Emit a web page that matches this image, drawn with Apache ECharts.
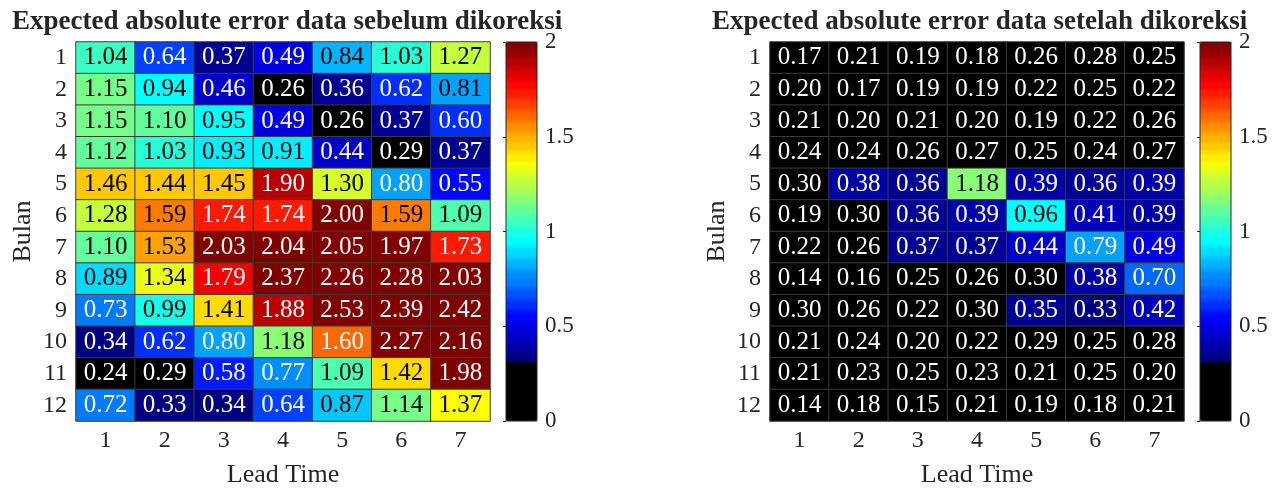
<!DOCTYPE html>
<html>
<head>
<meta charset="utf-8">
<script src="https://cdn.jsdelivr.net/npm/echarts@6/dist/echarts.min.js"></script>
<style>html,body{margin:0;padding:0;background:#fff;}#c{width:1276px;height:488px;}</style>
</head>
<body>
<div id="c"></div>
<script>
const leadTimes = ['1','2','3','4','5','6','7'];
const months = ['1','2','3','4','5','6','7','8','9','10','11','12'];
const colorbarTicks = [0, 0.5, 1, 1.5, 2];
const titleBefore = 'Expected absolute error data sebelum dikoreksi';
const titleAfter = 'Expected absolute error data setelah dikoreksi';

const errBefore = [
  [1.04,0.64,0.37,0.49,0.84,1.03,1.27],
  [1.15,0.94,0.46,0.26,0.36,0.62,0.81],
  [1.15,1.10,0.95,0.49,0.26,0.37,0.60],
  [1.12,1.03,0.93,0.91,0.44,0.29,0.37],
  [1.46,1.44,1.45,1.90,1.30,0.80,0.55],
  [1.28,1.59,1.74,1.74,2.00,1.59,1.09],
  [1.10,1.53,2.03,2.04,2.05,1.97,1.73],
  [0.89,1.34,1.79,2.37,2.26,2.28,2.03],
  [0.73,0.99,1.41,1.88,2.53,2.39,2.42],
  [0.34,0.62,0.80,1.18,1.60,2.27,2.16],
  [0.24,0.29,0.58,0.77,1.09,1.42,1.98],
  [0.72,0.33,0.34,0.64,0.87,1.14,1.37]
];
const errAfter = [
  [0.17,0.21,0.19,0.18,0.26,0.28,0.25],
  [0.20,0.17,0.19,0.19,0.22,0.25,0.22],
  [0.21,0.20,0.21,0.20,0.19,0.22,0.26],
  [0.24,0.24,0.26,0.27,0.25,0.24,0.27],
  [0.30,0.38,0.36,1.18,0.39,0.36,0.39],
  [0.19,0.30,0.36,0.39,0.96,0.41,0.39],
  [0.22,0.26,0.37,0.37,0.44,0.79,0.49],
  [0.14,0.16,0.25,0.26,0.30,0.38,0.70],
  [0.30,0.26,0.22,0.30,0.35,0.33,0.42],
  [0.21,0.24,0.20,0.22,0.29,0.25,0.28],
  [0.21,0.23,0.25,0.23,0.21,0.25,0.20],
  [0.14,0.18,0.15,0.21,0.19,0.18,0.21]
];

const CMIN = 0, CMAX = 2;
// colormap: 64 levels, first 10 black then jet
function cmap(v) {
  let bin = Math.floor((v - CMIN) / (CMAX - CMIN) * 64);
  if (bin > 63) bin = 63; if (bin < 0) bin = 0;
  if (bin < 10) return 'rgb(0,0,0)';
  const t = (bin - 10) / 53;
  const cl = x => Math.max(0, Math.min(1, x));
  const r = cl(1.5 - Math.abs(4*t - 3)), g = cl(1.5 - Math.abs(4*t - 2)), b = cl(1.5 - Math.abs(4*t - 1));
  return 'rgb(' + Math.round(r*255) + ',' + Math.round(g*255) + ',' + Math.round(b*255) + ')';
}
const stops = [];
for (let i = 0; i <= 400; i++) stops.push(cmap(CMIN + (CMAX - CMIN) * i / 400 - (i === 0 ? 0 : 1e-9)));

function toCells(m) {
  const out = [];
  m.forEach((row, yi) => row.forEach((v, xi) => out.push([xi, yi, v])));
  return out;
}

const FONT = 'Liberation Serif';
const TXT = '#262626';
const chart = echarts.init(document.getElementById('c'), null, {renderer: 'canvas'});

const grids = [
  {left: 76, top: 42, width: 414, height: 379},
  {left: 770, top: 42, width: 414, height: 379}
];
const cbars = [
  {left: 506, top: 42, width: 31, height: 379},
  {left: 1200, top: 42, width: 31, height: 379}
];

const option = {
  animation: false,
  backgroundColor: '#fff',
  title: [
    {text: titleBefore, left: 7, top: 4, textStyle: {fontFamily: FONT, fontWeight: 'bold', fontSize: 27, color: TXT}},
    {text: titleAfter, left: 707, top: 4, textStyle: {fontFamily: FONT, fontWeight: 'bold', fontSize: 27, color: TXT}}
  ],
  grid: [
    Object.assign({outerBoundsMode: 'none', containLabel: false}, grids[0]),
    Object.assign({outerBoundsMode: 'none', containLabel: false}, grids[1]),
    Object.assign({outerBoundsMode: 'none', containLabel: false, show: true, borderColor: TXT, borderWidth: 1, backgroundColor: 'transparent', z: 10}, cbars[0]),
    Object.assign({outerBoundsMode: 'none', containLabel: false, show: true, borderColor: TXT, borderWidth: 1, backgroundColor: 'transparent', z: 10}, cbars[1])
  ],
  xAxis: [0, 1].map(i => ({
    type: 'category', gridIndex: i, data: leadTimes, position: 'bottom',
    axisLine: {show: false}, axisTick: {show: false}, splitLine: {show: false},
    axisLabel: {fontFamily: FONT, fontSize: 24, color: TXT, margin: 8, interval: 0},
    name: 'Lead Time', nameLocation: 'middle', nameGap: 41,
    nameTextStyle: {fontFamily: FONT, fontSize: 26, color: TXT}
  })).concat([2, 3].map(i => ({
    type: 'value', gridIndex: i, min: 0, max: 1, show: false
  }))),
  yAxis: [0, 1].map(i => ({
    type: 'category', gridIndex: i, data: months, inverse: true,
    axisLine: {show: false}, axisTick: {show: false}, splitLine: {show: false},
    axisLabel: {fontFamily: FONT, fontSize: 24, color: TXT, margin: 9, interval: 0},
    name: 'Bulan', nameLocation: 'middle', nameGap: 40, nameRotate: 90,
    nameTextStyle: {fontFamily: FONT, fontSize: 26, color: TXT}
  })).concat([2, 3].map(i => ({
    type: 'value', gridIndex: i, min: colorbarTicks[0], max: colorbarTicks[colorbarTicks.length - 1], interval: 0.5,
    position: 'right', z: 10,
    axisLine: {show: false},
    axisTick: {show: true, inside: true, length: 3, lineStyle: {color: TXT}},
    splitLine: {show: false},
    axisLabel: {fontFamily: FONT, fontSize: 23, color: TXT, margin: 8,
      formatter: v => String(v)}
  }))),
  visualMap: [0, 1].map(i => ({
    type: 'continuous', seriesIndex: i, dimension: 2,
    min: CMIN, max: CMAX, calculable: false, hoverLink: false, realtime: false,
    orient: 'vertical', left: cbars[i].left, top: cbars[i].top, padding: 0,
    itemWidth: cbars[i].width, itemHeight: cbars[i].height, text: null, showLabel: false,
    inRange: {color: stops},
    outOfRange: {color: [cmap(CMAX)]}
  })),
  series: [errBefore, errAfter].map((m, i) => ({
    type: 'heatmap', xAxisIndex: i, yAxisIndex: i,
    data: toCells(m),
    itemStyle: {borderColor: '#3c3c3c', borderWidth: 1},
    emphasis: {disabled: true},
    label: {
      show: true,
      formatter: p => {
        const v = p.value[2];
        const s = v.toFixed(2);
        return (v < 0.805 || v >= 1.595) ? '{w|' + s + '}' : '{k|' + s + '}';
      },
      rich: {
        w: {color: '#ffffff', fontFamily: FONT, fontSize: 25},
        k: {color: '#000000', fontFamily: FONT, fontSize: 25}
      }
    }
  }))
};
chart.setOption(option);
</script>
</body>
</html>
